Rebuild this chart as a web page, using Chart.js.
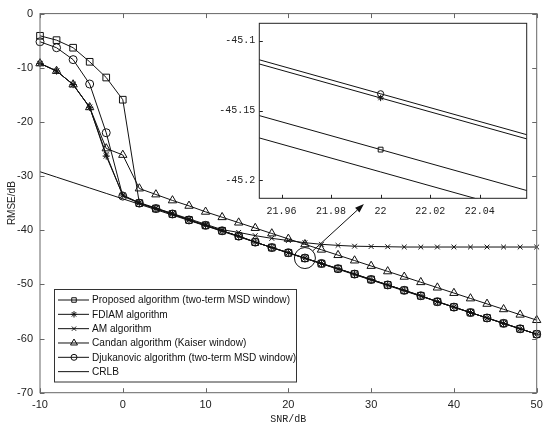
<!DOCTYPE html>
<html>
<head>
<meta charset="utf-8">
<script src="https://cdn.jsdelivr.net/npm/chart.js@4.4.1/dist/chart.umd.min.js"></script>
<style>
  html, body { margin: 0; padding: 0; background: #fff; }
  #wrap { position: relative; width: 550px; height: 436px; }
  #wrap canvas { position: absolute; left: 0; top: 0; }
</style>
</head>
<body>
<div id="wrap">
  <canvas id="main" width="550" height="436"></canvas>
  <canvas id="inset" width="550" height="436"></canvas>
</div>
<script>
// SNR points (dB)
const snr = [-10, -8, -6, -4, -2, 0, 2, 4, 6, 8, 10, 12, 14, 16, 18, 20, 22, 24, 26, 28, 30, 32, 34, 36, 38, 40, 42, 44, 46, 48, 50];

// RMSE (dB)
const proposed = [-4.1, -4.9, -6.3, -8.9, -11.8, -15.9, -35.0, -36.0, -37.0, -38.1, -39.1, -40.1, -41.1, -42.2, -43.2, -44.184, -45.178, -46.172, -47.1, -48.1, -49.1, -50.1, -51.1, -52.1, -53.2, -54.2, -55.2, -56.2, -57.2, -58.2, -59.2];
const fdiam = [-9.2, -10.6, -13.1, -17.3, -26.3, -33.5, -35.0, -36.0, -37.0, -38.1, -39.1, -40.1, -41.1, -42.2, -43.2, -44.147, -45.141, -46.135, -47.1, -48.1, -49.1, -50.1, -51.1, -52.1, -53.2, -54.2, -55.2, -56.2, -57.2, -58.2, -59.2];
const am = [-9.2, -10.6, -13.1, -17.3, -26.0, -33.6, -34.9, -35.9, -36.9, -37.9, -38.9, -39.9, -40.4, -41.0, -41.5, -41.9, -42.3, -42.6, -42.8, -42.95, -43.0, -43.05, -43.1, -43.1, -43.1, -43.1, -43.1, -43.1, -43.1, -43.1, -43.1];
const candan = [-9.2, -10.6, -13.1, -17.3, -24.9, -26.1, -32.3, -33.4, -34.5, -35.5, -36.6, -37.6, -38.6, -39.6, -40.6, -41.6, -42.6, -43.6, -44.6, -45.6, -46.6, -47.6, -48.6, -49.6, -50.6, -51.6, -52.6, -53.6, -54.6, -55.6, -56.6];
const djukanovic = [-5.2, -6.3, -8.5, -13.0, -22.0, -33.7, -35.0, -36.0, -37.0, -38.1, -39.1, -40.1, -41.1, -42.2, -43.2, -44.144, -45.138, -46.132, -47.1, -48.1, -49.1, -50.1, -51.1, -52.1, -53.2, -54.2, -55.2, -56.2, -57.2, -58.2, -59.2];
const crlb = [-29.2, -30.2, -31.2, -32.2, -33.2, -34.2, -35.2, -36.2, -37.2, -38.2, -39.2, -40.2, -41.2, -42.2, -43.2, -44.200, -45.194, -46.188, -47.2, -48.2, -49.2, -50.2, -51.2, -52.2, -53.2, -54.2, -55.2, -56.2, -57.2, -58.2, -59.2];

const seriesNames = [
  'Proposed algorithm (two-term MSD window)',
  'FDIAM algorithm',
  'AM algorithm',
  'Candan algorithm (Kaiser window)',
  'Djukanovic algorithm (two-term MSD window)',
  'CRLB'
];

// ticks
const xTicks = [-10, 0, 10, 20, 30, 40, 50];
const yTicks = [-70, -60, -50, -40, -30, -20, -10, 0];
const insetXTicks = [21.96, 21.98, 22, 22.02, 22.04];
const insetYTicks = [-45.2, -45.15, -45.1];

const zoomAt = 22; // SNR that the inset magnifies

const ink = '#111';
const sansFont = "'Liberation Sans', Arial, sans-serif";
const monoFont = "'Liberation Mono', 'DejaVu Sans Mono', monospace";

const toXY = (arr) => arr.map((v, i) => ({ x: snr[i], y: v }));

const styles = [
  { pointStyle: 'rect', r: 4.7, ri: 3.4, rl: 3.2 },
  { pointStyle: 'star', r: 3.6, ri: 3.2, rl: 3.2 },
  { pointStyle: 'crossRot', r: 3.4, ri: 3, rl: 3 },
  { pointStyle: 'triangle', r: 4.8, ri: 4, rl: 4 },
  { pointStyle: 'circle', r: 4, ri: 3.1, rl: 3 },
  { pointStyle: false, r: 0, ri: 0, rl: 0 }
];
const allSeries = [proposed, fdiam, am, candan, djukanovic, crlb];

const makeDatasets = (inset) => allSeries.map((arr, i) => ({
  label: seriesNames[i],
  data: toXY(arr),
  borderColor: ink,
  borderWidth: 1,
  pointStyle: styles[i].pointStyle,
  pointRadius: inset ? styles[i].ri : styles[i].r,
  pointBorderColor: ink,
  pointBackgroundColor: 'rgba(0,0,0,0)',
  pointBorderWidth: 1,
  tension: 0,
  clip: inset ? 0 : false
}));

const setTicks = (list) => (scale) => { scale.ticks = list.map(v => ({ value: v })); };

// frame box with inward ticks, MATLAB style
const frameTicks = {
  id: 'frameTicks',
  afterDraw(chart, args, opts) {
    const { ctx, chartArea: a } = chart;
    const x = chart.scales.x, y = chart.scales.y;
    ctx.save();
    ctx.strokeStyle = opts.color;
    ctx.lineWidth = opts.width;
    ctx.strokeRect(a.left, a.top, a.right - a.left, a.bottom - a.top);
    ctx.beginPath();
    x.ticks.forEach(t => {
      const px = Math.round(x.getPixelForValue(t.value)) + 0.5;
      ctx.moveTo(px, a.bottom); ctx.lineTo(px, a.bottom - opts.len);
      if (opts.allSides) { ctx.moveTo(px, a.top); ctx.lineTo(px, a.top + opts.len); }
    });
    y.ticks.forEach(t => {
      const py = Math.round(y.getPixelForValue(t.value)) + 0.5;
      ctx.moveTo(a.left, py); ctx.lineTo(a.left + opts.len, py);
      if (opts.allSides) { ctx.moveTo(a.right, py); ctx.lineTo(a.right - opts.len, py); }
    });
    ctx.stroke();
    ctx.restore();
  }
};

const whiteArea = {
  id: 'whiteArea',
  beforeDraw(chart) {
    const { ctx, chartArea: a } = chart;
    ctx.save();
    ctx.fillStyle = '#fff';
    ctx.fillRect(a.left, a.top, a.right - a.left, a.bottom - a.top);
    ctx.restore();
  }
};

// legend, axis titles, zoom circle and arrow
const decorations = {
  id: 'decorations',
  afterDraw(chart) {
    const { ctx } = chart;
    const x = chart.scales.x, y = chart.scales.y;
    ctx.save();

    // axis titles
    ctx.fillStyle = '#222';
    ctx.font = '10px ' + monoFont;
    ctx.textAlign = 'center';
    ctx.textBaseline = 'middle';
    ctx.fillText('SNR/dB', (chart.chartArea.left + chart.chartArea.right) / 2, 419);
    ctx.save();
    ctx.translate(12, (chart.chartArea.top + chart.chartArea.bottom) / 2);
    ctx.rotate(-Math.PI / 2);
    ctx.font = '10px ' + sansFont;
    ctx.fillText('RMSE/dB', 0, 0);
    ctx.restore();

    // circle around the magnified point + arrow to inset
    const idx = snr.indexOf(zoomAt);
    const cx = x.getPixelForValue(zoomAt);
    const cy = y.getPixelForValue(djukanovic[idx]);
    ctx.strokeStyle = ink;
    ctx.lineWidth = 1;
    ctx.beginPath();
    ctx.arc(cx, cy, 10.5, 0, Math.PI * 2);
    ctx.stroke();
    const tx = cx + 59, ty = cy - 54;
    const dx = tx - cx, dy = ty - cy, len = Math.hypot(dx, dy);
    const ux = dx / len, uy = dy / len;
    const sx = cx + ux * 10.5, sy = cy + uy * 10.5;
    const hl = 9, hw = 3.2;
    ctx.beginPath();
    ctx.moveTo(sx, sy);
    ctx.lineTo(tx - ux * hl, ty - uy * hl);
    ctx.stroke();
    ctx.fillStyle = ink;
    ctx.beginPath();
    ctx.moveTo(tx, ty);
    ctx.lineTo(tx - ux * hl - uy * hw, ty - uy * hl + ux * hw);
    ctx.lineTo(tx - ux * hl + uy * hw, ty - uy * hl - ux * hw);
    ctx.closePath();
    ctx.fill();

    // legend box
    const lx = 54, ly = 289, lw = 242, lh = 92.5;
    ctx.fillStyle = '#fff';
    ctx.fillRect(lx, ly, lw, lh);
    ctx.strokeStyle = '#333';
    ctx.lineWidth = 1;
    ctx.strokeRect(lx + 0.5, ly + 0.5, lw, lh);
    ctx.font = '10.1px ' + sansFont;
    ctx.textAlign = 'left';
    ctx.textBaseline = 'middle';
    chart.data.datasets.forEach((ds, i) => {
      const ry = 300 + i * 14.33;
      ctx.strokeStyle = ink;
      ctx.lineWidth = 1;
      ctx.beginPath();
      ctx.moveTo(58, ry); ctx.lineTo(89, ry);
      ctx.stroke();
      if (styles[i].pointStyle) {
        ctx.fillStyle = 'rgba(0,0,0,0)';
        Chart.helpers.drawPoint(ctx, {
          pointStyle: styles[i].pointStyle, rotation: 0,
          radius: styles[i].rl, borderWidth: 1
        }, 74, ry);
      }
      ctx.fillStyle = '#111';
      ctx.fillText(ds.label, 92, ry + 0.5);
    });
    ctx.restore();
  }
};

const axisTicks = (family, size, padding) => ({
  padding: padding, color: '#222', font: { family: family, size: size }, callback: v => String(v)
});
const noGrid = { display: false, drawTicks: false };

new Chart(document.getElementById('main'), {
  type: 'line',
  data: { datasets: makeDatasets(false) },
  plugins: [frameTicks, decorations],
  options: {
    responsive: false,
    animation: false,
    layout: { padding: { left: 0, right: 13.3, top: 13.3, bottom: 0 } },
    plugins: {
      legend: { display: false },
      tooltip: { enabled: false },
      frameTicks: { color: '#666', width: 1, len: 4.5, allSides: true }
    },
    scales: {
      x: {
        type: 'linear', min: -10, max: 50,
        afterBuildTicks: setTicks(xTicks),
        afterFit: (s) => { s.height = 43.3; },
        grid: noGrid, border: { display: false },
        ticks: axisTicks(sansFont, 11, 6)
      },
      y: {
        type: 'linear', min: -70, max: 0,
        afterBuildTicks: setTicks(yTicks),
        afterFit: (s) => { s.width = 40; },
        grid: noGrid, border: { display: false },
        ticks: axisTicks(sansFont, 11, 7)
      }
    }
  }
});

new Chart(document.getElementById('inset'), {
  type: 'line',
  data: { datasets: makeDatasets(true) },
  plugins: [whiteArea, frameTicks],
  options: {
    responsive: false,
    animation: false,
    events: [],
    layout: { padding: { left: 214.3, right: 23.3, top: 23.3, bottom: 212.7 } },
    plugins: {
      legend: { display: false },
      tooltip: { enabled: false },
      frameTicks: { color: '#222', width: 1, len: 3.5, allSides: false }
    },
    scales: {
      x: {
        type: 'linear', min: 21.951, max: 22.059,
        afterBuildTicks: setTicks(insetXTicks),
        afterFit: (s) => { s.height = 25; },
        grid: noGrid, border: { display: false },
        ticks: axisTicks(monoFont, 10, 7)
      },
      y: {
        type: 'linear', min: -45.2129, max: -45.0875,
        afterBuildTicks: setTicks(insetYTicks),
        afterFit: (s) => { s.width = 45; },
        grid: noGrid, border: { display: false },
        ticks: axisTicks(monoFont, 10, 4)
      }
    }
  }
});
</script>
</body>
</html>
